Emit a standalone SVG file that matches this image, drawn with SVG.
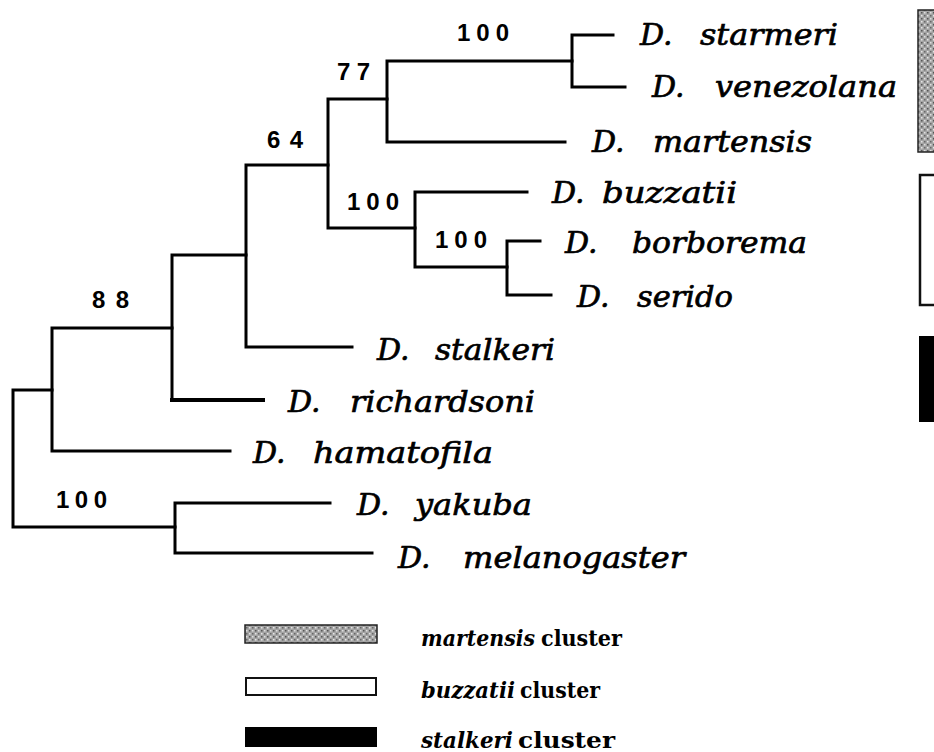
<svg xmlns="http://www.w3.org/2000/svg" width="934" height="752" viewBox="0 0 934 752">
<style>
.br{fill:none;stroke:#000;stroke-width:3;stroke-linecap:square}
.sp{font-family:"DejaVu Serif","Liberation Serif",serif;font-style:italic;font-size:30px;fill:#000;stroke:#000;stroke-width:0.7}
.bs{font-family:"Liberation Sans",Arial,sans-serif;font-weight:bold;font-size:24px;fill:#000}
.lg{font-family:"DejaVu Serif","Liberation Serif",serif;font-weight:bold;font-size:23px;fill:#000}
.lgi{font-style:italic}
</style>
<defs>
<pattern id="stip" width="6" height="6" patternUnits="userSpaceOnUse">
<rect width="6" height="6" fill="#a4a4a4"/>
<rect x="0" y="0" width="1.5" height="1.5" fill="#e0e0e0"/>
<rect x="3" y="3" width="1.5" height="1.5" fill="#e6e6e6"/>
<rect x="3" y="0" width="1.5" height="1.5" fill="#555"/>
<rect x="0" y="3" width="1.5" height="1.5" fill="#666"/>
</pattern>
</defs>
<rect width="934" height="752" fill="#fff"/>
<g id="connectors" class="br">
<path d="M13 390V527M13 390H52M13 527H175"/>
<path d="M52 328V451M52 451H230M52 328H172"/>
<path d="M172 255V400M172 255H246"/>
<path d="M172 400H263" style="stroke-width:4"/>
<path d="M246 165V347M246 347H352M246 165H328"/>
<path d="M328 99V228M328 99H387M328 228H415"/>
<path d="M387 61V142M387 61H572M387 142H565"/>
<path d="M572 35V87M572 35H613M572 87H625"/>
<path d="M415 192V267M415 192H527M415 267H507"/>
<path d="M507 241V295M507 241H540M507 295H551"/>
<path d="M175 503V553M175 503H330M175 553H372"/>
</g>
<g id="node-starmeri-venezolana"><text class="bs" x="457" y="41" textLength="52" lengthAdjust="spacing">100</text></g>
<g id="node-77"><text class="bs" x="337" y="80" textLength="33" lengthAdjust="spacing">77</text></g>
<g id="node-64"><text class="bs" x="267" y="148" textLength="36" lengthAdjust="spacing">64</text></g>
<g id="node-buzzatii-clade"><text class="bs" x="347" y="210" textLength="52" lengthAdjust="spacing">100</text></g>
<g id="node-borborema-serido"><text class="bs" x="435" y="248" textLength="52" lengthAdjust="spacing">100</text></g>
<g id="node-88"><text class="bs" x="92" y="308" textLength="37" lengthAdjust="spacing">88</text></g>
<g id="node-yakuba-melanogaster"><text class="bs" x="56" y="508" textLength="51" lengthAdjust="spacing">100</text></g>
<g id="starmeri"><text class="sp" x="640" y="45">D.</text><text class="sp" x="700" y="45" textLength="138" lengthAdjust="spacingAndGlyphs">starmeri</text></g>
<g id="venezolana"><text class="sp" x="652" y="97">D.</text><text class="sp" x="715" y="97" textLength="182" lengthAdjust="spacingAndGlyphs">venezolana</text></g>
<g id="martensis"><text class="sp" x="592" y="152">D.</text><text class="sp" x="653" y="152" textLength="159" lengthAdjust="spacingAndGlyphs">martensis</text></g>
<g id="buzzatii"><text class="sp" x="552" y="203">D.</text><text class="sp" x="602" y="203" textLength="135" lengthAdjust="spacingAndGlyphs">buzzatii</text></g>
<g id="borborema"><text class="sp" x="565" y="253">D.</text><text class="sp" x="632" y="253" textLength="175" lengthAdjust="spacingAndGlyphs">borborema</text></g>
<g id="serido"><text class="sp" x="577" y="307">D.</text><text class="sp" x="637" y="307" textLength="96" lengthAdjust="spacingAndGlyphs">serido</text></g>
<g id="stalkeri"><text class="sp" x="377" y="360">D.</text><text class="sp" x="435" y="360" textLength="120" lengthAdjust="spacingAndGlyphs">stalkeri</text></g>
<g id="richardsoni"><text class="sp" x="288" y="412">D.</text><text class="sp" x="350" y="412" textLength="185" lengthAdjust="spacingAndGlyphs">richardsoni</text></g>
<g id="hamatofila"><text class="sp" x="253" y="463">D.</text><text class="sp" x="313" y="463" textLength="180" lengthAdjust="spacingAndGlyphs">hamatofila</text></g>
<g id="yakuba"><text class="sp" x="357" y="515">D.</text><text class="sp" x="415" y="515" textLength="117" lengthAdjust="spacingAndGlyphs">yakuba</text></g>
<g id="melanogaster"><text class="sp" x="398" y="568">D.</text><text class="sp" x="463" y="568" textLength="222" lengthAdjust="spacingAndGlyphs">melanogaster</text></g>
<g id="cluster-bars">
<rect x="918" y="10" width="30" height="142" fill="url(#stip)" stroke="#222" stroke-width="1.5"/>
<rect x="920" y="175" width="30" height="130" fill="#fff" stroke="#111" stroke-width="2.5"/>
<rect x="919" y="336" width="30" height="86" fill="#000"/>
</g>
<g id="legend-martensis">
<rect x="245" y="625" width="132" height="18" fill="url(#stip)" stroke="#222" stroke-width="1.5"/>
<text class="lg lgi" x="421" y="646" textLength="114" lengthAdjust="spacingAndGlyphs">martensis</text>
<text class="lg" x="541" y="646" textLength="81" lengthAdjust="spacingAndGlyphs">cluster</text>
</g>
<g id="legend-buzzatii">
<rect x="246" y="678" width="130" height="17" fill="#fff" stroke="#111" stroke-width="2"/>
<text class="lg lgi" x="421" y="698" textLength="94" lengthAdjust="spacingAndGlyphs">buzzatii</text>
<text class="lg" x="520" y="698" textLength="80" lengthAdjust="spacingAndGlyphs">cluster</text>
</g>
<g id="legend-stalkeri">
<rect x="245" y="727" width="132" height="20" fill="#000"/>
<text class="lg lgi" x="421" y="748" textLength="92" lengthAdjust="spacingAndGlyphs">stalkeri</text>
<text class="lg" x="518" y="748" textLength="97" lengthAdjust="spacingAndGlyphs">cluster</text>
</g>
</svg>
